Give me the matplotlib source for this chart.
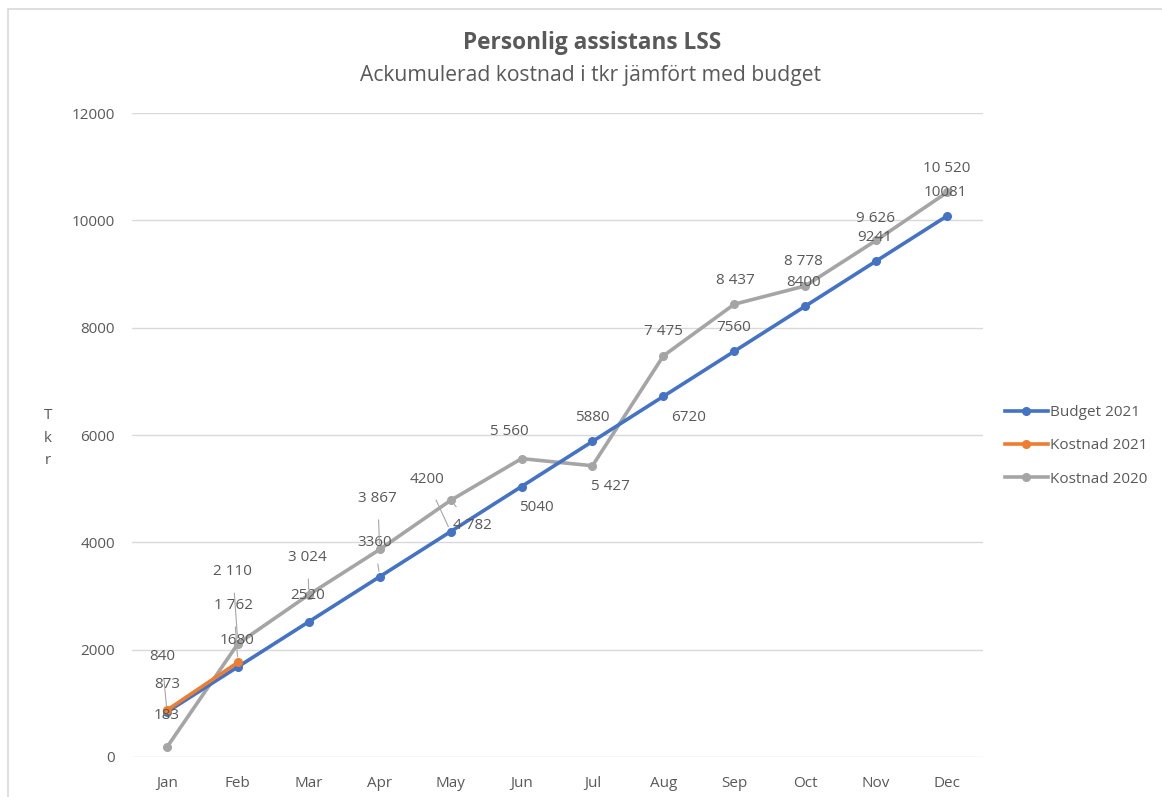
import matplotlib
matplotlib.use("Agg")
import matplotlib.pyplot as plt
from matplotlib.patches import Rectangle

months = ["Jan", "Feb", "Mar", "Apr", "May", "Jun", "Jul", "Aug", "Sep", "Oct", "Nov", "Dec"]
budget_2021 = [840, 1680, 2520, 3360, 4200, 5040, 5880, 6720, 7560, 8400, 9241, 10081]
kostnad_2021 = [873, 1762]
kostnad_2020 = [183, 2110, 3024, 3867, 4782, 5560, 5427, 7475, 8437, 8778, 9626, 10520]
y_ticks = [0, 2000, 4000, 6000, 8000, 10000, 12000]

title = "Personlig assistans LSS"
subtitle = "Ackumulerad kostnad i tkr jämfört med budget"

# label offsets in pixels (dx, dy up)
off_budget = [(-5, 55), (-1, 26), (-1, 26), (-5, 34), (-24, 52), (15, -21), (0, 24),
              (25, -21), (-1, 24), (-2, 24), (-1, 24), (-2, 23)]
off_k21 = [(0, 26), (-4, 57)]
off_k20 = [(0, 32), (-5, 72), (-1, 37), (-2, 51), (22, -25), (-12, 27), (18, -21),
           (0, 24), (1, 24), (-2, 24), (-1, 22), (0, 24)]

BLUE = "#4472C4"
ORANGE = "#ED7D31"
GRAY = "#A5A5A5"
TXT = "#595959"
FONT = ["Open Sans", "DejaVu Sans"]
plt.rcParams["font.family"] = FONT
FS = 11

W, H = 1162, 797
fig = plt.figure(figsize=(W / 100, H / 100), dpi=100)
fig.patches.append(Rectangle((8 / W, -0.1), 1.2, (H - 9) / H + 0.1, transform=fig.transFigure,
                             fill=False, edgecolor="#D9D9D9", linewidth=1.2))

ax = fig.add_axes([131.5 / W, (H - 757) / H, 851 / W, 644 / H])
x = list(range(len(months)))

ax.plot(x, budget_2021, color=BLUE, lw=2.6, marker="o", ms=5.5, label="Budget 2021", zorder=3)
ax.plot(x[:len(kostnad_2021)], kostnad_2021, color=ORANGE, lw=2.6, marker="o", ms=5.5,
        label="Kostnad 2021", zorder=4)
ax.plot(x, kostnad_2020, color=GRAY, lw=2.6, marker="o", ms=5.5, label="Kostnad 2020", zorder=2)

ax.set_xlim(-0.5, len(months) - 0.5)
ax.set_ylim(0, 12000)
ax.set_xticks(x)
ax.set_xticklabels(months)
ax.set_yticks(y_ticks)
ax.set_yticklabels([str(v) for v in y_ticks])
ax.tick_params(axis="both", length=0, colors=TXT, labelsize=FS)
ax.tick_params(axis="x", pad=14)
ax.tick_params(axis="y", pad=12)
for s in ax.spines.values():
    s.set_visible(False)
ax.grid(axis="y", color="#D9D9D9", lw=1)
ax.set_axisbelow(True)


def fmt_space(v):
    return f"{v:,}".replace(",", " ")


def add_labels(xs, ys, offs, fmt):
    for xi, yi, (dx, dy) in zip(xs, ys, offs):
        lead = (dx * dx + dy * dy) ** 0.5 > 33
        ax.annotate(fmt(yi), (xi, yi), xytext=(dx, dy), textcoords="offset pixels",
                    ha="center", va="center", fontsize=FS, color=TXT, zorder=6,
                    arrowprops=dict(arrowstyle="-", color="#A6A6A6", lw=0.8,
                                    shrinkA=8, shrinkB=4) if lead else None)


add_labels(x, budget_2021, off_budget, lambda v: str(v))
add_labels(x[:len(kostnad_2021)], kostnad_2021, off_k21, fmt_space)
add_labels(x, kostnad_2020, off_k20, fmt_space)

fig.text(592 / W, 1 - 43 / H, title, ha="center", va="center", fontsize=16.3,
         fontweight="bold", color=TXT)
fig.text(590 / W, 1 - 75 / H, subtitle, ha="center", va="center", fontsize=15.2, color=TXT)
fig.text(48 / W, 1 - 438 / H, "T\nk\nr", ha="center", va="center", fontsize=FS,
         color=TXT, linespacing=1.7)

leg = fig.legend(loc="center left", bbox_to_anchor=(1005 / W, 1 - 446 / H), frameon=False,
                 fontsize=FS, labelspacing=1.2, handlelength=2.8, handletextpad=0.15,
                 labelcolor=TXT, borderaxespad=0, borderpad=0)

fig.savefig("out.png", dpi=100)
